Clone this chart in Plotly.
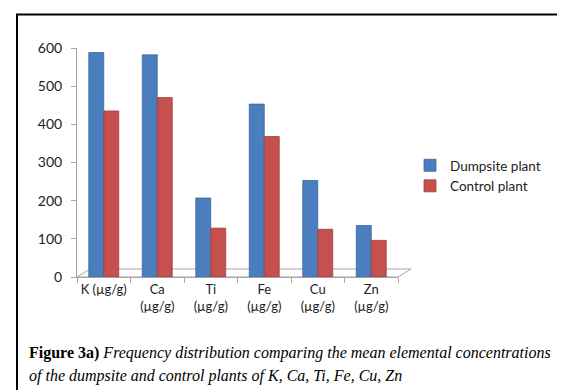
import plotly.graph_objects as go

categories = ["K (µg/g)", "Ca<br>(µg/g)", "Ti<br>(µg/g)", "Fe<br>(µg/g)", "Cu<br>(µg/g)", "Zn<br>(µg/g)"]
dumpsite = [588, 582, 207, 453, 253, 135]
control = [435, 470, 128, 368, 125, 96]
y_ticks = [0, 100, 200, 300, 400, 500, 600]

W, H = 565, 390
L, R, T, B = 69, 175, 40, 121
pw, ph = W - L - R, H - T - B

def px(x):
    return (x - L) / pw

def py(y):
    return (H - B - y) / ph

fig = go.Figure()
fig.add_bar(x=categories, y=dumpsite, name="Dumpsite plant",
            marker=dict(color="#4a7ebf", line=dict(color="#3a67a0", width=0.8)))
fig.add_bar(x=categories, y=control, name="Control plant",
            marker=dict(color="#c5504d", line=dict(color="#a03e3b", width=0.8)))

shapes = [
    # 3D floor
    dict(type="path", xref="paper", yref="paper", layer="below",
         path=f"M {px(69)} {py(269)} L {px(82)} {py(261)} L {px(403)} {py(261)} L {px(390)} {py(269)} Z",
         line=dict(color="#a6a6a6", width=1), fillcolor="rgba(0,0,0,0)"),
    # outer border
    dict(type="rect", xref="paper", yref="paper",
         x0=px(9), x1=px(557.5), y0=py(383), y1=py(6.5),
         line=dict(color="black", width=2), fillcolor="rgba(0,0,0,0)"),
]

fig.update_layout(
    width=W, height=H,
    margin=dict(l=L, r=R, t=T, b=B),
    paper_bgcolor="white", plot_bgcolor="white",
    barmode="group", bargap=0.44, bargroupgap=0.0,
    font=dict(family="Lato, Noto Sans, sans-serif", size=13, color="#222"),
    showlegend=True,
    legend=dict(x=px(402), y=py(168), xanchor="left", yanchor="middle",
                font=dict(size=13.5, color="#222"), tracegroupgap=8,
                bgcolor="rgba(0,0,0,0)"),
    shapes=shapes,
    annotations=[
        dict(xref="paper", yref="paper", x=px(19), y=py(345), xanchor="left", yanchor="middle",
             showarrow=False,
             text="<b>Figure 3a)</b> <i>Frequency distribution comparing the mean elemental concentrations</i>",
             font=dict(family="Liberation Serif, serif", size=16, color="black")),
        dict(xref="paper", yref="paper", x=px(19), y=py(368), xanchor="left", yanchor="middle",
             showarrow=False,
             text="<i>of the dumpsite and control plants of K, Ca, Ti, Fe, Cu, Zn</i>",
             font=dict(family="Liberation Serif, serif", size=16, color="black")),
    ],
)
fig.update_xaxes(showline=True, linecolor="#a6a6a6", ticks="outside", tickcolor="#a6a6a6",
                 ticklen=5, tickson="boundaries", showgrid=False, tickangle=0,
                 tickfont=dict(size=13, color="#222"))
fig.update_yaxes(range=[0, 600], tickvals=y_ticks, showline=True, linecolor="#a6a6a6",
                 ticks="outside", tickcolor="#a6a6a6", ticklen=5, showgrid=False,
                 zeroline=False, ticklabelstandoff=6, tickfont=dict(size=14, color="#222"))

fig.write_html("out.html")
